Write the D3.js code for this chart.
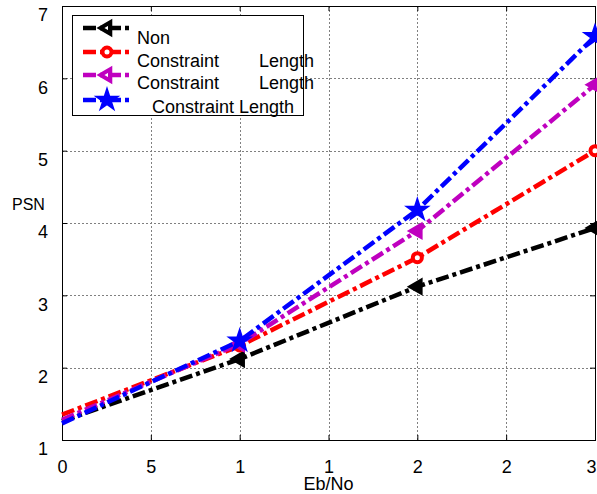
<!DOCTYPE html>
<html>
<head>
<meta charset="utf-8">
<script src="https://cdn.jsdelivr.net/npm/d3@7"></script>
<style>
  html, body { margin: 0; padding: 0; background: #fff; }
  svg { display: block; font-family: "Liberation Sans", Arial, sans-serif; }
  text { white-space: pre; }
</style>
</head>
<body>
<div id="chart"></div>
<script>
// Eb/No sample points
const ebno = [0, 10, 20, 30];

// PSN per curve
const psnNon = [1.26, 2.12, 3.12, 3.93];
const psnRed = [1.35, 2.30, 3.52, 5.00];
const psnMagenta = [1.28, 2.33, 3.89, 5.91];
const psnBlue = [1.23, 2.37, 4.18, 6.58];

// Legend entries
const legendLabels = [
  "Non",
  "Constraint        Length",
  "Constraint        Length",
  "   Constraint Length"
];

// Tick values and their printed labels
const xTicks = [0, 5, 10, 15, 20, 25, 30];
const xTickLabels = ["0", "5", "1", "1", "2", "2", "3"];
const yTicks = [1, 2, 3, 4, 5, 6, 7];
const yTickLabels = ["1", "2", "3", "4", "5", "6", "7"];

const W = 597, H = 494;
const plot = { left: 62, right: 595, top: 6, bottom: 440 };

const series = [
  { values: psnNon, color: "#000000", marker: "triLeft" },
  { values: psnRed, color: "#ff0000", marker: "circle" },
  { values: psnMagenta, color: "#bf00bf", marker: "triLeft" },
  { values: psnBlue, color: "#0000ff", marker: "star" }
];

const svg = d3.select("#chart").append("svg")
  .attr("width", W).attr("height", H);

const x = d3.scaleLinear().domain([0, 30]).range([plot.left, plot.right]);
const y = d3.scaleLinear().domain([1, 7]).range([plot.bottom, plot.top]);

// Dotted grid
const grid = svg.append("g").attr("stroke", "#808080").attr("stroke-width", 1)
  .attr("stroke-dasharray", "2,2").attr("shape-rendering", "crispEdges");
grid.selectAll("line.gx").data(xTicks.slice(1, -1)).join("line")
  .attr("x1", d => Math.round(x(d)) + 0.5).attr("x2", d => Math.round(x(d)) + 0.5)
  .attr("y1", plot.top).attr("y2", plot.bottom);
grid.selectAll("line.gy").data(yTicks.slice(1, -1)).join("line")
  .attr("y1", d => Math.round(y(d)) + 0.5).attr("y2", d => Math.round(y(d)) + 0.5)
  .attr("x1", plot.left).attr("x2", plot.right);

// Axes with inward ticks on all four sides
const fontSize = 18;
const gx = svg.append("g").attr("transform", `translate(0,${plot.bottom})`)
  .call(d3.axisBottom(x).tickValues(xTicks).tickFormat((d, i) => xTickLabels[i])
    .tickSize(-5).tickPadding(20));
const gy = svg.append("g").attr("transform", `translate(${plot.left},0)`)
  .call(d3.axisLeft(y).tickValues(yTicks).tickFormat((d, i) => yTickLabels[i])
    .tickSize(-5).tickPadding(14));
const gt = svg.append("g").attr("transform", `translate(0,${plot.top})`)
  .call(d3.axisTop(x).tickValues(xTicks).tickFormat("").tickSize(-5));
const gr = svg.append("g").attr("transform", `translate(${plot.right},0)`)
  .call(d3.axisRight(y).tickValues(yTicks).tickFormat("").tickSize(-5));

[gx, gy, gt, gr].forEach(g => {
  g.selectAll(".domain").remove();
  g.selectAll(".tick line").attr("stroke", "#000");
  g.selectAll("text").attr("font-size", fontSize)
    .attr("font-family", "Liberation Sans, Arial, sans-serif").attr("fill", "#000");
});
gy.selectAll("text").attr("dy", "0.82em");
// last x label sits against the right edge of the page
gx.selectAll(".tick:last-of-type text").attr("text-anchor", "end").attr("dx", 1);

// Axes box
svg.append("rect")
  .attr("x", plot.left + 0.5).attr("y", plot.top + 0.5)
  .attr("width", plot.right - plot.left).attr("height", plot.bottom - plot.top)
  .attr("fill", "none").attr("stroke", "#000").attr("stroke-width", 1);

// Axis titles
svg.append("text").attr("x", (plot.left + plot.right) / 2).attr("y", 490)
  .attr("text-anchor", "middle").attr("font-size", fontSize).text("Eb/No");
svg.append("text").attr("x", 12).attr("y", 210)
  .attr("font-size", 16).text("PSN");

// Marker shapes
function markerPath(type) {
  if (type === "circle") return d3.symbol(d3.symbolCircle, 64)();
  if (type === "star") return d3.symbol(d3.symbolStar, 150)();
  return d3.symbol(d3.symbolTriangle, 56)();
}
function drawMarker(g, type, color, cx, cy, hollow) {
  const p = g.append("path").attr("d", markerPath(type))
    .attr("stroke", color).attr("stroke-linejoin", "miter");
  if (type === "circle") {
    p.attr("transform", `translate(${cx},${cy})`)
      .attr("fill", "#fff").attr("stroke-width", 4);
  } else if (type === "star") {
    p.attr("transform", `translate(${cx},${cy})`)
      .attr("fill", color).attr("stroke-width", 1.5);
  } else {
    p.attr("transform", `translate(${cx},${cy}) rotate(-90)`)
      .attr("fill", hollow ? "none" : color).attr("stroke-width", 4);
  }
}

const dash = "13,4,4,4";
const line = d3.line().x(d => x(d[0])).y(d => y(d[1]));

series.forEach(s => {
  const pts = ebno.map((e, i) => [e, s.values[i]]);
  const g = svg.append("g");
  g.append("path").datum(pts).attr("d", line)
    .attr("fill", "none").attr("stroke", s.color).attr("stroke-width", 4.5)
    .attr("stroke-dasharray", dash);
  // markers from the second sample onwards
  pts.slice(1).forEach(p => drawMarker(g, s.marker, s.color, x(p[0]), y(p[1]), false));
});

// Legend
const lg = svg.append("g");
lg.append("rect").attr("x", 72.5).attr("y", 15.5).attr("width", 231).attr("height", 100)
  .attr("fill", "#fff").attr("stroke", "#000").attr("stroke-width", 1);
const lineYs = [28, 52, 75, 100];
const textYs = [44, 67, 89, 113];
series.forEach((s, i) => {
  lg.append("line").attr("x1", 83).attr("x2", 131)
    .attr("y1", lineYs[i]).attr("y2", lineYs[i])
    .attr("stroke", s.color).attr("stroke-width", 4.5).attr("stroke-dasharray", dash);
  drawMarker(lg, s.marker, s.color, 107, lineYs[i], true);
  lg.append("text").attr("x", 137).attr("y", textYs[i])
    .attr("font-size", fontSize).attr("fill", "#000").text(legendLabels[i]);
});
</script>
</body>
</html>
